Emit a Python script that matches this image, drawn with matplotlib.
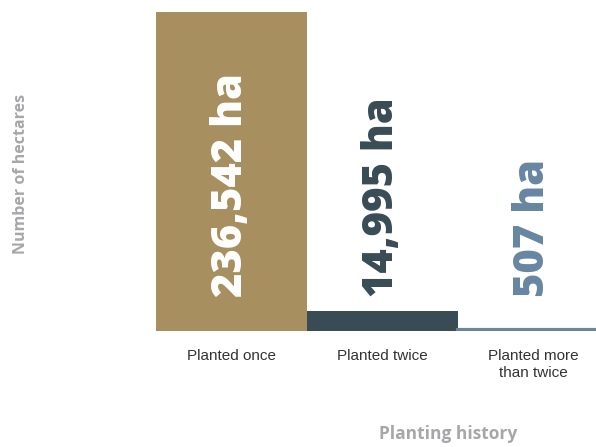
import matplotlib.pyplot as plt

categories = ["Planted once", "Planted twice", "Planted more\nthan twice"]
hectares = [236542, 14995, 507]
value_labels = ["236,542 ha", "14,995 ha", "507 ha"]
colors = ["#A88F5F", "#394B55", "#6786A2"]

fig = plt.figure(figsize=(5.96, 4.47), dpi=100)
ax = fig.add_axes([156 / 596, 116 / 447, 453 / 596, 319 / 447])

x = list(range(len(hectares)))
bars = ax.bar(x, hectares, width=1.0, color=colors, zorder=2)
# the smallest bar is too thin to see, give it an outline like the original
bars[2].set_edgecolor(colors[2])
bars[2].set_linewidth(3.0)

ax.set_xlim(-0.5, 2.5)
ax.set_ylim(0, max(hectares))

label_colors = ["white", colors[1], colors[2]]
trans = ax.get_xaxis_transform()
for i, txt in enumerate(value_labels):
    ax.text(x[i] - 0.005, 0.107, txt, transform=trans, rotation=90,
            rotation_mode="anchor", ha="left", va="center",
            color=label_colors[i], fontsize=30, fontweight="heavy",
            family=["Open Sans", "DejaVu Sans"])

ax.set_xticks(x)
ax.set_xticklabels(categories, fontsize=11, color="#333333",
                   family=["Liberation Sans", "DejaVu Sans"],
                   linespacing=1.3)
ax.tick_params(axis="x", length=0, pad=13)
ax.set_yticks([])
for s in ax.spines.values():
    s.set_visible(False)

fig.text(448 / 596, 1 - 434 / 447, "Planting history", ha="center", va="center",
         fontsize=12.5, fontweight="bold", color="#A7A7AB", family="Open Sans")
fig.text(21 / 596, 1 - 174 / 447, "Number of hectares", ha="center", va="center",
         rotation=90, fontsize=11.5, fontweight="bold", color="#A7A7AB",
         family="Open Sans")

fig.savefig("out.png", dpi=100)
